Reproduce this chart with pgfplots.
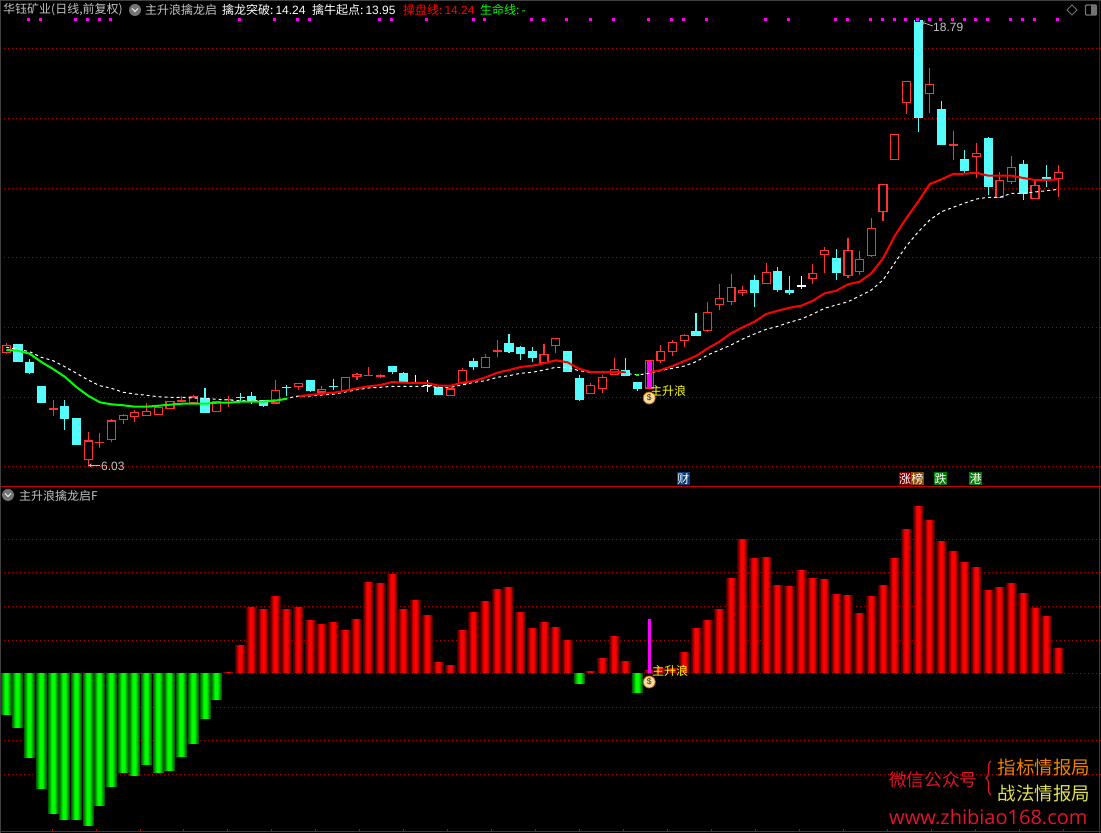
\documentclass[border=0pt]{standalone}
\usepackage{fontspec}
\usepackage{pgfplots}
\pgfplotsset{compat=1.18}
\usepackage{pgfplotstable}
\usetikzlibrary{decorations.pathreplacing}
\setmainfont{Noto Sans CJK SC}
\newfontfamily\lat{Liberation Sans}
\newfontfamily\web{Open Sans}

\definecolor{cup}{HTML}{FF3232}
\definecolor{cdn}{HTML}{54FCFC}
\definecolor{griddot}{HTML}{B40000}
\definecolor{frame}{HTML}{C80000}
\definecolor{txt}{HTML}{C4C4C4}
\definecolor{wm}{HTML}{E2132B}
\definecolor{bagc}{HTML}{F6DDA0}
\definecolor{mag}{HTML}{FF00FF}
\definecolor{yel}{HTML}{FFFF00}
\definecolor{ra}{RGB}{70,0,0}
\definecolor{rb}{RGB}{115,0,0}
\definecolor{rc}{RGB}{170,0,0}
\definecolor{rd}{RGB}{225,0,0}
\definecolor{re}{RGB}{255,0,0}
\definecolor{ga}{RGB}{0,95,0}
\definecolor{gb}{RGB}{0,135,0}
\definecolor{gc}{RGB}{0,180,0}
\definecolor{gd}{RGB}{0,225,0}
\definecolor{ge}{RGB}{0,255,0}

% oscillator bars, height above the zero line
\pgfplotstableread{
i v
19 1
20 28
21 66
22 64
23 77
24 64
25 66
26 53
27 49
28 51
29 43
30 54
31 91
32 90
33 99
34 64
35 73
36 58
37 11
38 8
39 43
40 61
41 72
42 84
43 86
44 61
45 45
46 51
47 46
48 33
50 2
51 15
52 37
53 12
55 3
56 5
57 5
58 21
59 45
60 53
61 64
62 95
63 134
64 115
65 116
66 88
67 87
68 103
69 95
70 94
71 79
72 78
73 60
74 77
75 88
76 115
77 144
78 167
79 153
80 132
81 122
82 111
83 106
84 83
85 86
86 90
87 80
88 65
89 57
90 25
}\redbars
\pgfplotstableread{
i v
0 -42
1 -55
2 -85
3 -116
4 -141
5 -147
6 -147
7 -153
8 -133
9 -114
10 -100
11 -103
12 -92
13 -100
14 -98
15 -84
16 -71
17 -46
18 -27
49 -11
54 -20
}\greenbars

% one candle: index, body top, body bottom, high, low, colour, body fill
\newcommand{\cndl}[7]{%
  \pgfmathsetmacro\xa{#1-0.34}%
  \pgfmathsetmacro\xb{#1+0.34}%
  \edef\tmp{\noexpand\addplot[forget plot,#6,line width=1.1pt] coordinates {(#1,#4)(#1,#5)};
    \noexpand\addplot[forget plot,draw=#6,fill=#7,line width=1.15pt] coordinates {(\xa,#2)(\xb,#2)(\xb,#3)(\xa,#3)} --cycle;}%
  \tmp}
\newcommand{\cR}[5]{\cndl{#1}{#2}{#3}{#4}{#5}{cup}{black}}
\newcommand{\cC}[5]{\cndl{#1}{#2}{#3}{#4}{#5}{cdn}{cdn}}
\newcommand{\cW}[5]{\cndl{#1}{#2}{#3}{#4}{#5}{white}{white}}

% text placed by pixel from the top left
\newcommand{\lbl}[4]{\node[anchor=west,inner sep=0pt,text=#3] at (#1,833-#2) {#4};}
\newcommand{\tag}[4]{\node[fill=#3,text=white,inner sep=0pt,minimum width=12.5pt,minimum height=13pt] at (#1,833-#2) {#4};}
\newcommand{\chev}[2]{%
  \fill[black!55!white] (#1,833-#2) circle (6);
  \draw[white!85!black,line width=1.3pt] (#1-3,833-#2+1.5) -- (#1,833-#2-1.5) -- (#1+3,833-#2+1.5);}
\newcommand{\bag}[2]{%
  \node[circle,fill=bagc,draw=orange!80!black,line width=.8pt,inner sep=0pt,minimum size=12pt,
    font=\lat\fontsize{8.5}{8.5}\selectfont,text=black!70!brown] at (axis cs:#1,#2) {\$};}
% one shaded bar layer
\newcommand{\barlayer}[3]{\addplot[ycomb,no markers,line width=#1pt,color=#2] table[x=i,y=v] {#3};}

\begin{document}
\begin{tikzpicture}[x=1pt,y=1pt,every node/.style={font=\fontsize{12}{14}\selectfont}]
\fill[black] (0,0) rectangle (1101,833);
\path[use as bounding box] (0,0) rectangle (1101,833);

\pgfplotsset{panel/.style={
  scale only axis,width=1101pt,
  xmin=-0.539,xmax=93.65,
  xtick=\empty,yticklabels={},
  axis line style={draw=none},
  major tick length=0pt,
  ymajorgrids,
  grid style={griddot,line width=1pt,dash pattern=on 1pt off 3pt},
}}

% price panel, y runs downward as on the screen
\begin{axis}[panel,at={(0pt,346pt)},anchor=south west,height=487pt,
  y dir=reverse,ymin=0,ymax=487,
  ytick={48.5,118.5,188.5,257.5,327.5,397.5,466.5}]

\addplot[only marks,mark=square*,mark size=2pt,xshift=-1pt,mark options={draw=none,fill=mag}] coordinates {
 (2,19.3)(3,19.3)(6,19.3)(7,19.3)(8,19.3)(9,19.3)(20,19.3)(23,19.3)(25,19.3)(26,19.3)
 (32,19.3)(33,19.3)(36,19.3)(40,19.3)(41,19.3)(45,19.3)(46,19.3)(48,19.3)(50,19.3)(52,19.3)
 (55,19.3)(57,19.3)(58,19.3)(60,19.3)(65,19.3)(67,19.3)(71,19.3)(72,19.3)(74,19.3)(75,19.3)
 (76,19.3)(77,19.3)(78,19.3)(79,19.3)(80,19.3)(81,19.3)(82,19.3)(83,19.3)(84,19.3)(86,19.3)
 (87,19.3)(88,19.3)(90,19.3)};

\cR{0}{345.3}{352.7}{343.3}{354}
\cC{1}{345}{361}{345}{362}
\cC{2}{363}{372}{359}{374}
\cC{3}{387}{402}{386}{402}
\cR{4}{408.5}{409.5}{400}{416}
\cC{5}{407}{418}{400}{430}
\cC{6}{419}{444}{419}{444}
\cR{7}{441}{459.3}{432}{465}
\cR{8}{442.2}{442.8}{433}{448}
\cR{9}{421}{439.7}{419}{441.7}
\cR{10}{415.3}{419.7}{414}{424}
\cR{11}{412.3}{416.7}{410}{422}
\cR{12}{411.3}{415.7}{403}{415.7}
\cR{13}{407.3}{414.7}{405}{414.7}
\cR{14}{401.3}{408.7}{401.3}{408.7}
\cR{15}{400.5}{401.5}{396}{402}
\cR{16}{397}{402.7}{395}{402.7}
\cC{17}{399}{412}{388}{412}
\cR{18}{401.3}{411.7}{401.3}{411.7}
\cR{19}{399.2}{399.8}{396}{407}
\cC{20}{397.2}{397.8}{393}{402}
\cC{21}{397}{400.7}{392}{404}
\cC{22}{401}{405}{401}{407}
\cR{23}{390.3}{403}{380}{403}
\cC{24}{387.2}{387.8}{385}{396}
\cR{25}{383.3}{386.7}{383}{390}
\cC{26}{381}{390}{381}{392}
\cR{27}{389.3}{392}{386}{394}
\cC{28}{386.2}{386.8}{379}{390}
\cR{29}{377.3}{390.7}{377.3}{390.7}
\cR{30}{374.3}{376.7}{373}{380}
\cR{31}{375.2}{375.8}{367}{376}
\cR{32}{375.5}{376.5}{374}{378}
\cC{33}{367}{371}{366}{374}
\cC{34}{374}{382}{372}{382}
\cW{35}{382.2}{382.8}{375}{383}
\cW{36}{385.2}{385.8}{380}{392}
\cC{37}{388}{394}{386}{394}
\cR{38}{389}{395.7}{389}{395.7}
\cR{39}{370.3}{383.3}{368}{383.3}
\cC{40}{362}{366}{358}{370}
\cR{41}{357.3}{367.7}{354}{368}
\cR{42}{350.5}{351.5}{340}{357}
\cC{43}{344}{351}{334}{353}
\cC{44}{348}{353}{346}{360}
\cC{45}{352}{357}{347}{362}
\cR{46}{354.3}{362.7}{344}{363}
\cR{47}{338.3}{345.7}{338.3}{353}
\cC{48}{352}{371}{352}{371}
\cC{49}{379}{399}{375}{401}
\cR{50}{385.3}{393.7}{383}{394}
\cR{51}{377.3}{388.7}{375}{393}
\cR{52}{369.3}{374.3}{358}{374.3}
\cC{53}{371}{375}{358}{375}
\cC{54}{383}{388}{383}{391}
\cR{55}{360.3}{388}{360.3}{388}
\cR{56}{351.3}{360.7}{345}{363}
\cR{57}{342.3}{351.7}{340}{356}
\cR{58}{335.3}{340.7}{334}{347}
\cC{59}{332}{335}{313.3}{335.7}
\cR{60}{312.3}{330.7}{302.3}{332.3}
\cR{61}{298.3}{304.7}{284.3}{310}
\cR{62}{287.3}{301.7}{274.3}{305}
\cR{63}{290.3}{292.7}{286.3}{295.7}
\cC{64}{280.3}{292}{275.3}{307}
\cR{65}{272.3}{283.3}{263.3}{283.3}
\cC{66}{271.3}{289}{267.3}{292}
\cC{67}{290.3}{292}{276.3}{295}
\cW{68}{285.4}{286}{276.3}{289.3}
\cR{69}{273.3}{278.7}{264}{284}
\cR{70}{250.3}{254.7}{247.3}{273.3}
\cC{71}{258.3}{272}{249.3}{280}
\cR{72}{250.3}{275.7}{238.3}{277.7}
\cR{73}{259.3}{271.7}{251.3}{274.7}
\cR{74}{228.7}{255.7}{218.3}{256.7}
\cR{75}{184.3}{211.5}{184.3}{220.7}
\cR{76}{134.3}{159.7}{134.3}{159.7}
\cR{77}{81.3}{102.3}{81.3}{114}
\cC{78}{21}{117}{20}{132}
\cR{79}{84.3}{93.7}{68.3}{113}
\cC{80}{110}{144}{101}{144}
\cR{81}{144.5}{145.5}{131}{160}
\cC{82}{160}{170}{150}{173}
\cR{83}{153.3}{156.7}{143.3}{178}
\cC{84}{139}{186}{137}{195}
\cR{85}{180.3}{197.7}{172.3}{197.7}
\cR{86}{167.3}{181.7}{156}{184}
\cC{87}{165}{193.3}{160}{200}
\cR{88}{185.3}{198.7}{181}{198.7}
\cC{89}{178}{180}{165}{187}
\cR{90}{172.3}{178.7}{165}{196.7}

\addplot[mag,line width=5pt] coordinates {(55,361)(55,387.5)};

% slow white line
\addplot[white,line width=1pt,dash pattern=on 3pt off 3pt] coordinates {
 (0,347.3)(1,349.3)(2,351.7)(3,357.3)(4,360.7)(5,366.7)(6,373.3)(7,380)(8,385.7)(9,388.3)
 (10,392.3)(11,394)(12,395.3)(13,396.7)(14,397.3)(15,397.3)(16,398)(17,398.3)(18,399.3)(19,400)
 (20,400.7)(21,400.7)(22,400.7)(23,400)(24,398.3)(25,396)(26,396)(27,395)(28,394.2)(29,392)
 (30,389.7)(31,388)(32,387.3)(33,386.3)(34,386.3)(35,386.3)(36,386.3)(37,387.3)(38,387.3)(39,385)
 (40,382.3)(41,380.7)(42,377.3)(43,375.7)(44,373.3)(45,372.3)(46,370)(47,367.3)(48,367.3)(49,370.7)
 (50,372.3)(51,372.3)(52,372.7)(53,373.3)(54,375)(55,373.3)(56,370.5)(57,368.3)(58,366)(59,361.7)
 (60,355)(61,350)(62,345)(63,339)(64,334)(65,329.3)(66,326.3)(67,322.3)(68,319)(69,314)
 (70,308.3)(71,305)(72,301.7)(73,296)(74,290)(75,280)(76,263)(77,246)(78,232)(79,220)
 (80,211.7)(81,207.3)(82,203)(83,199)(84,197.3)(85,197.3)(86,193.3)(87,193.3)(88,192)(89,190.7)(90,189.3)};

% main line, green while below the slow line, red above it
\addplot[green,line width=2pt] coordinates {
 (0,350)(1,350.7)(2,353.7)(3,362)(4,369)(5,376.7)(6,387)(7,395.7)(8,402.3)(9,404.3)
 (10,405.3)(11,406.7)(12,406.7)(13,405.7)(14,404.7)(15,403.7)(16,403.7)(17,403.7)(18,402.7)(19,402.7)
 (20,401.7)(21,401.7)(22,401.7)(23,400.7)(24,398.7)};
\addplot[red,line width=2pt] coordinates {
 (25,396)(26,395)(27,393.7)(28,392.7)(29,390.7)(30,388.3)(31,386.3)(32,385)(33,382)(34,382.7)
 (35,383)(36,383)(37,385.7)(38,385.7)(39,382.7)(40,381)(41,377.3)(42,372.7)(43,370)(44,367)
 (45,365.7)(46,363.3)(47,360.3)(48,362.3)(49,368.7)(50,372)(51,372)(52,372)(53,372.3)};
\addplot[green,line width=2pt] coordinates {(53.85,374.7)(54.15,374.7)};
\addplot[red,line width=2pt] coordinates {
 (55,372.3)(56,370)(57,366)(58,361)(59,356)(60,348.3)(61,341.7)(62,333.3)(63,327.3)(64,321.7)
 (65,314)(66,310.7)(67,307.7)(68,305.7)(69,300.7)(70,293.3)(71,290.7)(72,284.3)(73,281.7)(74,273.3)
 (75,258.3)(76,236)(77,218)(78,201.7)(79,184)(80,179.3)(81,174)(82,173.7)(83,172.7)(84,175.7)
 (85,175.7)(86,175.7)(87,178)(88,180)(89,180)(90,179.3)};

\bag{55}{398}
\end{axis}

% oscillator panel
\begin{axis}[panel,at={(0pt,0pt)},anchor=south west,height=346pt,
  ymin=-160,ymax=186,
  ytick={133.5,100.5,66.5,32.5,-0.5,-34.5,-67.5,-101.5}]
\barlayer{11}{ra}{\redbars}
\barlayer{9}{rb}{\redbars}
\barlayer{7}{rc}{\redbars}
\barlayer{5}{rd}{\redbars}
\barlayer{3}{re}{\redbars}
\barlayer{11}{ga}{\greenbars}
\barlayer{9}{gb}{\greenbars}
\barlayer{7}{gc}{\greenbars}
\barlayer{5}{gd}{\greenbars}
\barlayer{3}{ge}{\greenbars}
\addplot[mag,line width=3pt] coordinates {(55,54)(55,0)};
\bag{55}{-9}
\end{axis}

% frame
\draw[frame,line width=1pt] (0,346.5) -- (1101,346.5);
\draw[frame,line width=1pt] (0,1.5) -- (1101,1.5);
\draw[frame,line width=1pt] (1099.5,0) -- (1099.5,346.5);
\draw[frame!70!black,line width=1pt] (1099.5,346.5) -- (1099.5,833);
\draw[black!75!white,line width=1pt] (0.5,0) -- (0.5,833);
\draw[black!75!white,line width=1pt] (0,832.5) -- (1101,832.5);
\foreach \tx in {52,96,140,183,227,271,315,359,403,447,491,535,579,623,667,711,755,799,843,887,931,975,1019,1063}
  \draw[frame,line width=1pt] (\tx,1.5) -- (\tx,4);

% header
\lbl{3}{10}{txt}{华钰矿业(日线,前复权)}
\chev{135}{10}
\lbl{145}{10}{txt}{主升浪擒龙启}
\lbl{222}{10}{white}{擒龙突破:\,{\lat 14.24}}
\lbl{312}{10}{white}{擒牛起点:\,{\lat 13.95}}
\lbl{403}{10}{red}{操盘线:\,{\lat 14.24}}
\lbl{480}{10}{green}{生命线:\,{\lat -}}
\draw[black!55!white,line width=.8pt] (1072,833-5) -- (1077,833-10) -- (1072,833-15) -- (1067,833-10) -- cycle;
\draw[black!55!white,line width=1.3pt,rounded corners=1pt] (1085.5,833-5) rectangle (1096.5,833-15);
\fill[black!55!white] (1091,833-5) rectangle (1096,833-15);

\chev{8}{495}
\lbl{19}{495.5}{txt}{主升浪擒龙启F}

% extremes
\draw[black!25!white,line width=.7pt,->,>=stealth] (933,833-26) -- (921,833-22);
\lbl{933}{27}{txt}{{\lat 18.79}}
\draw[black!25!white,line width=.7pt,->,>=stealth] (100,833-465.5) -- (88,833-465.5);
\lbl{101}{466.5}{txt}{{\lat 6.03}}

% signal labels
\lbl{650}{391}{yel}{主升浪}
\lbl{652}{671}{yel}{主升浪}

% news tags
\definecolor{tagb}{HTML}{0A3C78}
\definecolor{tagr}{HTML}{7A0000}
\definecolor{tago}{HTML}{8A4A00}
\definecolor{tagg}{HTML}{007A00}
\tag{683.3}{478.7}{tagb}{财}
\tag{905}{478.7}{tagr}{涨}
\tag{917.3}{478.7}{tago}{榜}
\tag{940.5}{478.7}{tagg}{跌}
\tag{975.5}{478.7}{tagg}{港}

% watermark
\definecolor{wmo}{HTML}{F08000}
\definecolor{wmy}{HTML}{E0E050}
\lbl{889}{780}{wm}{\fontsize{17.6}{20}\selectfont 微信公众号}
\draw[wm,line width=1.2pt,decorate,decoration={brace,amplitude=5pt}] (991,833-795) -- (991,833-761);
\lbl{997.5}{767}{wmo}{\fontsize{18.5}{20}\selectfont 指标情报局}
\lbl{997.5}{793}{wmy}{\fontsize{18.5}{20}\selectfont 战法情报局}
\lbl{889}{817}{wm}{\web\fontsize{20}{22}\selectfont www.zhibiao168.com}
\end{tikzpicture}
\end{document}
